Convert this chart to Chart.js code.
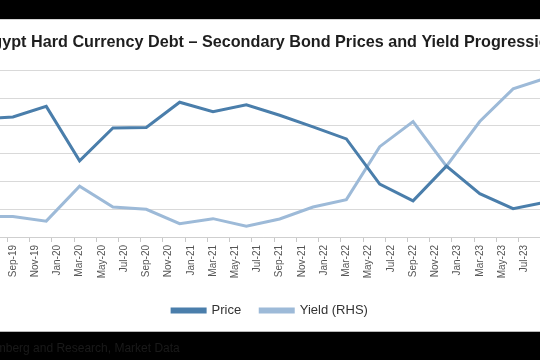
<!DOCTYPE html>
<html>
<head>
<meta charset="utf-8">
<script src="https://cdn.jsdelivr.net/npm/chart.js@4.4.0/dist/chart.umd.min.js"></script>
<style>
  html, body { margin: 0; padding: 0; }
  body { width: 540px; height: 360px; background: #000; position: relative; overflow: hidden; font-family: "Liberation Sans", Arial, sans-serif; }
  #panel { position: absolute; top: 19px; left: -80px; width: 700px; height: 313px; background: #fff; }
  #topline { position: absolute; top: 19px; left: 0; width: 540px; height: 1px; background: #d4d4d4; }
  #botline { position: absolute; top: 331px; left: 0; width: 540px; height: 1px; background: #b8b8b8; }
  #source { position: absolute; top: 341px; left: -73px; color: #1a1a1a; font-size: 12px; white-space: nowrap; }
</style>
</head>
<body>
<div id="panel"><canvas id="chart" width="700" height="313"></canvas></div>
<div id="topline"></div>
<div id="botline"></div>
<div id="source">Source: Bloomberg and Research, Market Data</div>
<script>
// monthly category axis, labels shown every second month
const months = [
  'Jun-19','Jul-19','Aug-19','Sep-19','Oct-19','Nov-19','Dec-19',
  'Jan-20','Feb-20','Mar-20','Apr-20','May-20','Jun-20','Jul-20','Aug-20','Sep-20','Oct-20','Nov-20','Dec-20',
  'Jan-21','Feb-21','Mar-21','Apr-21','May-21','Jun-21','Jul-21','Aug-21','Sep-21','Oct-21','Nov-21','Dec-21',
  'Jan-22','Feb-22','Mar-22','Apr-22','May-22','Jun-22','Jul-22','Aug-22','Sep-22','Oct-22','Nov-22','Dec-22',
  'Jan-23','Feb-23','Mar-23','Apr-23','May-23','Jun-23','Jul-23','Aug-23','Sep-23'
];

// quarterly observations
const quarters = [
  'Jun-19','Sep-19','Dec-19','Mar-20','Jun-20','Sep-20','Dec-20','Mar-21','Jun-21',
  'Sep-21','Dec-21','Mar-22','Jun-22','Sep-22','Dec-22','Mar-23','Jun-23','Sep-23'
];
const price = [92.5, 93.2, 97.0, 77.4, 89.2, 89.4, 98.5, 95.1, 97.6,
               93.8, 89.6, 85.3, 69.0, 63.0, 75.5, 65.6, 60.2, 62.6];
const yieldRhs = [5.48, 5.48, 5.14, 7.66, 6.16, 5.99, 4.96, 5.32, 4.78,
                  5.30, 6.16, 6.69, 10.5, 12.31, 9.10, 12.31, 14.66, 15.44];

const priceColor = '#4a7eab';
const yieldColor = '#9dbad8';

new Chart(document.getElementById('chart'), {
    type: 'line',
    data: {
        labels: months,
        datasets: [
            {
                label: 'Price',
                data: quarters.map((q, i) => ({ x: q, y: price[i] })),
                borderColor: priceColor,
                backgroundColor: priceColor,
                borderWidth: 3,
                pointRadius: 0,
                tension: 0,
                yAxisID: 'y'
            },
            {
                label: 'Yield (RHS)',
                data: quarters.map((q, i) => ({ x: q, y: yieldRhs[i] })),
                borderColor: yieldColor,
                backgroundColor: yieldColor,
                borderWidth: 3,
                pointRadius: 0,
                tension: 0,
                yAxisID: 'y1'
            }
        ]
    },
    options: {
        responsive: false,
        animation: false,
        devicePixelRatio: 1,
        layout: { padding: { left: 4, right: 4, top: 0, bottom: 5 } },
        scales: {
            x: {
                offset: true,
                grid: {
                    offset: true,
                    drawOnChartArea: false,
                    tickLength: 5,
                    tickColor: (ctx) => ctx.index % 2 === 1 ? '#c8c8c8' : 'rgba(0,0,0,0)'
                },
                border: { color: '#cfcfcf' },
                ticks: {
                    autoSkip: false,
                    minRotation: 90,
                    maxRotation: 90,
                    padding: 3,
                    color: '#555555',
                    font: { family: '"Liberation Sans", Arial, sans-serif', size: 10 },
                    callback: function (value, index) {
                        return index % 2 === 1 ? this.getLabelForValue(value) : '';
                    }
                },
                afterFit: (scale) => { scale.height = 48; }
            },
            y: {
                position: 'left',
                min: 50,
                max: 110,
                ticks: { stepSize: 10, color: '#595959', font: { size: 10 } },
                grid: { color: '#d9d9d9', lineWidth: 1 },
                border: { display: false },
                afterFit: (scale) => { scale.width = 50; }
            },
            y1: {
                position: 'right',
                min: 4,
                max: 16,
                ticks: { stepSize: 2, color: '#595959', font: { size: 10 } },
                grid: { drawOnChartArea: false },
                border: { display: false },
                afterFit: (scale) => { scale.width = 64; }
            }
        },
        plugins: {
            title: {
                display: true,
                text: 'Egypt Hard Currency Debt \u2013 Secondary Bond Prices and Yield Progression',
                color: '#1e1e1e',
                font: { family: '"Liberation Sans", Arial, sans-serif', size: 16.2, weight: 'bold' },
                padding: { top: 14, bottom: 17.8 }
            },
            legend: {
                position: 'bottom',
                labels: {
                    boxWidth: 33,
                    boxHeight: 3,
                    padding: 19,
                    color: '#333333',
                    font: { family: '"Liberation Sans", Arial, sans-serif', size: 13 }
                }
            },
            tooltip: { enabled: false }
        }
    }
});
</script>
</body>
</html>
